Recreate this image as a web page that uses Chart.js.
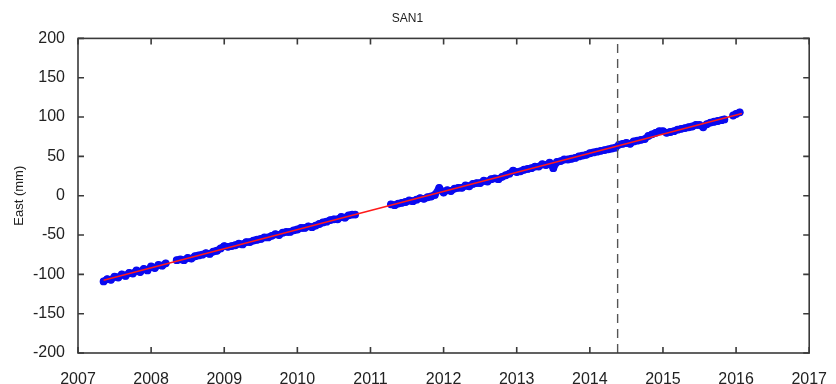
<!DOCTYPE html>
<html>
<head>
<meta charset="utf-8">
<script src="https://cdn.jsdelivr.net/npm/chart.js@4/dist/chart.umd.min.js"></script>
<style>
  html, body { margin: 0; padding: 0; background: #fff; }
  #wrap { width: 836px; height: 384px; }
</style>
</head>
<body>
<div id="wrap"><canvas id="sanChart" width="836" height="384"></canvas></div>
<script>
// daily east positions (sampled), station SAN1
const years = [
  2007.35, 2007.40, 2007.45, 2007.50, 2007.55, 2007.60, 2007.65, 2007.70, 2007.75, 2007.80,
  2007.85, 2007.90, 2007.95, 2008.00, 2008.05, 2008.10, 2008.15, 2008.20,
  2008.35, 2008.40, 2008.45, 2008.50, 2008.55, 2008.60, 2008.65, 2008.70, 2008.75, 2008.80,
  2008.85, 2008.90, 2008.95, 2009.00, 2009.05, 2009.10, 2009.15, 2009.20, 2009.25, 2009.30,
  2009.35, 2009.40, 2009.45, 2009.50, 2009.55, 2009.60, 2009.65, 2009.70, 2009.75, 2009.80,
  2009.85, 2009.90, 2009.95, 2010.00, 2010.05, 2010.10, 2010.15, 2010.20, 2010.25, 2010.30,
  2010.35, 2010.40, 2010.45, 2010.50, 2010.55, 2010.60, 2010.65, 2010.70, 2010.75, 2010.79,
  2011.28, 2011.33, 2011.38, 2011.43, 2011.48, 2011.53, 2011.58, 2011.63, 2011.68, 2011.73,
  2011.78, 2011.83, 2011.88, 2011.94, 2012.00, 2012.05, 2012.10, 2012.15, 2012.20, 2012.25,
  2012.30, 2012.35, 2012.40, 2012.45, 2012.50, 2012.55, 2012.60, 2012.65, 2012.70, 2012.75,
  2012.80, 2012.85, 2012.90, 2012.95, 2013.00, 2013.05, 2013.10, 2013.15, 2013.20, 2013.25,
  2013.30, 2013.35, 2013.40, 2013.45, 2013.50, 2013.55, 2013.60, 2013.65, 2013.70, 2013.75,
  2013.80, 2013.85, 2013.90, 2013.95, 2014.00, 2014.05, 2014.10, 2014.15, 2014.20, 2014.25,
  2014.30, 2014.35, 2014.40, 2014.45, 2014.50, 2014.55, 2014.60, 2014.65, 2014.70, 2014.75,
  2014.80, 2014.85, 2014.90, 2014.95, 2015.00, 2015.05, 2015.10, 2015.15, 2015.20, 2015.25,
  2015.30, 2015.35, 2015.40, 2015.45, 2015.50, 2015.55, 2015.60, 2015.65, 2015.70, 2015.75,
  2015.80, 2015.84, 2015.96, 2016.00, 2016.05
];
const east = [
  -109, -106, -107, -103, -104, -100, -102, -98, -99, -95,
  -97, -93, -95, -90, -92, -88, -89, -86,
  -82, -81, -82, -79, -80, -77, -76, -75, -73, -74,
  -71, -70, -67, -64, -65, -64, -63, -61, -62, -59,
  -59, -57, -56, -55, -53, -53, -51, -49, -50, -47,
  -46, -46, -44, -43, -41, -41, -39, -40, -38, -36,
  -34, -33, -31, -30, -30, -27, -28, -25, -24, -24,
  -11, -12, -10, -9, -8, -6, -7, -5, -3, -4,
  -2, -1, 1, 10, 4, 7, 6, 9, 10, 10,
  13, 12, 15, 16, 16, 19, 18, 21, 22, 21,
  24, 26, 28, 32, 30, 31, 33, 34, 35, 37,
  37, 40, 39, 42, 35, 43, 44, 46, 46, 47,
  48, 50, 51, 52, 54, 55, 56, 57, 58, 59,
  60, 61, 65, 66, 67, 66, 69, 70, 71, 72,
  76, 78, 80, 82, 82, 80, 81, 82, 84, 85,
  86, 87, 88, 90, 90, 87, 91, 93, 94, 95,
  96, 97, 102, 104, 106
];
// linear fit
const trendYears = [2007.35, 2016.08];
const trendEast = [-107.5, 104.5];
// event epoch (dashed marker)
const eventYear = 2014.38;
const yRange = [-200, 200];

const xTicks = [2007, 2008, 2009, 2010, 2011, 2012, 2013, 2014, 2015, 2016, 2017];
const yTicks = [-200, -150, -100, -50, 0, 50, 100, 150, 200];

const pts = years.map((t, i) => ({ x: t, y: east[i] }));
// same points, broken wherever the record has a data gap
const band = [];
pts.forEach((p, i) => {
  if (i > 0 && p.x - pts[i - 1].x > 0.1) band.push({ x: (p.x + pts[i - 1].x) / 2, y: null });
  band.push(p);
});
const fit = trendYears.map((t, i) => ({ x: t, y: trendEast[i] }));
const evt = yRange.map(v => ({ x: eventYear, y: v }));

// box with inward ticks on all four sides
const framePlugin = {
  id: "frame",
  afterDatasetsDraw(chart) {
    const { ctx, chartArea, scales } = chart;
    const { left, right, top, bottom } = chartArea;
    const len = 6;
    ctx.save();
    ctx.strokeStyle = "#3a3a3a";
    ctx.lineWidth = 1.6;
    ctx.strokeRect(left, top, right - left, bottom - top);
    ctx.beginPath();
    xTicks.forEach(v => {
      const px = scales.x.getPixelForValue(v);
      ctx.moveTo(px, bottom); ctx.lineTo(px, bottom - len);
      ctx.moveTo(px, top); ctx.lineTo(px, top + len);
    });
    yTicks.forEach(v => {
      const py = scales.y.getPixelForValue(v);
      ctx.moveTo(left, py); ctx.lineTo(left + len, py);
      ctx.moveTo(right, py); ctx.lineTo(right - len, py);
    });
    ctx.stroke();
    ctx.restore();
  }
};

const font = { family: "'Liberation Sans', Arial, sans-serif", size: 16 };

new Chart(document.getElementById("sanChart").getContext("2d"), {
  type: "scatter",
  data: {
    datasets: [
      {
        label: "East band",
        data: band,
        showLine: true,
        spanGaps: false,
        borderColor: "#1414ee",
        borderWidth: 7,
        borderJoinStyle: "round",
        borderCapStyle: "round",
        pointRadius: 0,
        order: 3
      },
      {
        label: "East",
        data: pts,
        showLine: false,
        pointRadius: 3.9,
        pointBorderWidth: 0,
        pointBackgroundColor: "#0a0af0",
        order: 2
      },
      {
        label: "Fit",
        data: fit,
        showLine: true,
        borderColor: "#ff1a1a",
        borderWidth: 1.6,
        pointRadius: 0,
        order: 1
      },
      {
        label: "Event",
        data: evt,
        showLine: true,
        borderColor: "#555",
        borderWidth: 1.4,
        borderDash: [9, 6],
        pointRadius: 0,
        order: 0
      }
    ]
  },
  options: {
    responsive: false,
    animation: false,
    layout: { padding: { top: 2, right: 21, left: 0, bottom: 0 } },
    plugins: {
      legend: { display: false },
      tooltip: { enabled: false },
      title: {
        display: true,
        text: "SAN1",
        color: "#222",
        font: { family: font.family, size: 12, weight: "normal" },
        padding: { top: 9, bottom: 13 }
      }
    },
    scales: {
      x: {
        type: "linear",
        min: 2007,
        max: 2017,
        afterBuildTicks: s => { s.ticks = xTicks.map(v => ({ value: v })); },
        afterFit: s => { s.height = 31; },
        grid: { display: false },
        border: { display: false },
        ticks: {
          color: "#222",
          font: font,
          padding: 9,
          maxRotation: 0,
          callback: v => String(v)
        }
      },
      y: {
        min: -200,
        max: 200,
        afterBuildTicks: s => { s.ticks = yTicks.map(v => ({ value: v })); },
        afterFit: s => { s.width = 78; },
        grid: { display: false },
        border: { display: false },
        title: {
          display: true,
          text: "East (mm)",
          color: "#222",
          font: { family: font.family, size: 13 },
          padding: { top: 12, bottom: 0 }
        },
        ticks: {
          color: "#222",
          font: font,
          padding: 5,
          callback: v => String(v)
        }
      }
    }
  },
  plugins: [framePlugin]
});
</script>
</body>
</html>
